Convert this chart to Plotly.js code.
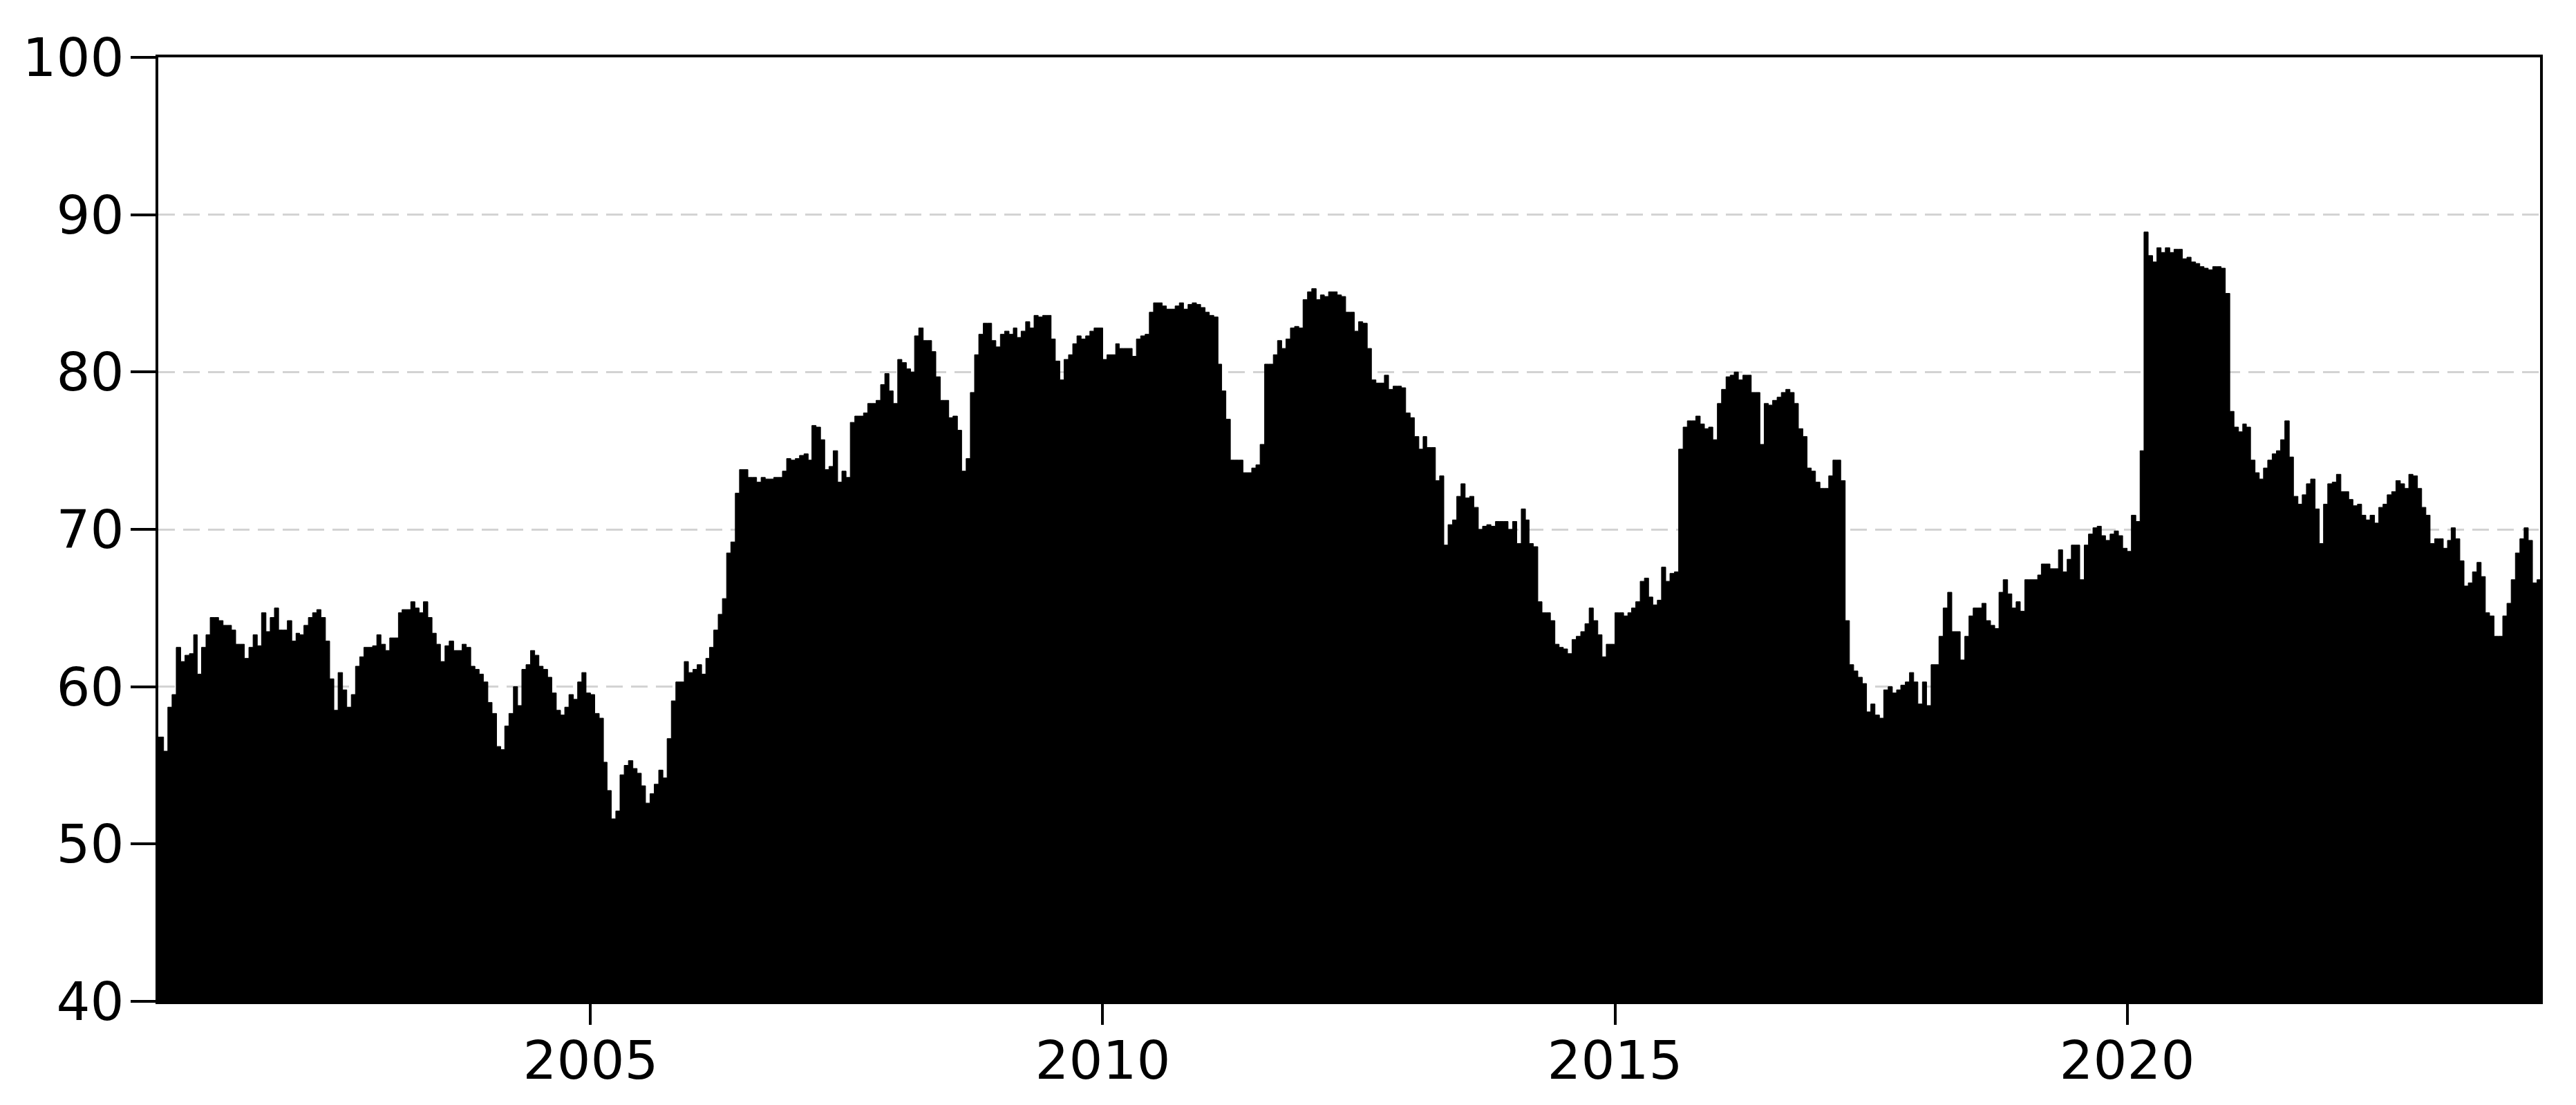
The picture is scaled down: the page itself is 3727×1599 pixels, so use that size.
<!DOCTYPE html>
<html>
<head>
<meta charset="utf-8">
<script src="https://cdn.plot.ly/plotly-3.0.1.min.js"></script>
<style>
    html, body { margin: 0; padding: 0; background: #fff; }
    #grafico { width: 3727px; height: 1599px; }
</style>
</head>
<body>
<div id="grafico"></div>
<script>
// um valor por meio mes (dia 01 e dia 16), 2000 comeca em outubro
var v2000 = [56.8, 56.8, 55.9, 58.7, 59.5, 62.5];
var v2001 = [61.6, 62.0, 62.1, 63.3, 60.8, 62.5, 63.3, 64.4, 64.4, 64.2, 63.9, 63.9, 63.6, 62.7, 62.7, 61.8, 62.5, 63.3, 62.6, 64.7, 63.5, 64.4, 65.0, 63.6];
var v2002 = [63.6, 64.2, 62.9, 63.4, 63.3, 63.9, 64.4, 64.7, 64.9, 64.4, 62.9, 60.5, 58.5, 60.9, 59.8, 58.7, 59.5, 61.3, 61.9, 62.5, 62.5, 62.6, 63.3, 62.7];
var v2003 = [62.3, 63.1, 63.1, 64.7, 64.9, 64.9, 65.4, 65.0, 64.7, 65.4, 64.4, 63.4, 62.7, 61.6, 62.6, 62.9, 62.3, 62.3, 62.7, 62.5, 61.3, 61.1, 60.8, 60.3];
var v2004 = [59.0, 58.3, 56.2, 56.0, 57.5, 58.3, 60.0, 58.8, 61.1, 61.4, 62.3, 62.0, 61.3, 61.1, 60.6, 59.6, 58.5, 58.2, 58.7, 59.5, 59.2, 60.3, 60.9, 59.6];
var v2005 = [59.5, 58.3, 58.0, 55.2, 53.4, 51.6, 52.1, 54.4, 55.0, 55.3, 54.8, 54.5, 53.7, 52.6, 53.2, 53.8, 54.7, 54.2, 56.7, 59.1, 60.3, 60.3, 61.6, 60.9];
var v2006 = [61.1, 61.4, 60.8, 61.8, 62.5, 63.6, 64.6, 65.6, 68.5, 69.2, 72.3, 73.8, 73.8, 73.3, 73.3, 73.0, 73.3, 73.2, 73.2, 73.3, 73.3, 73.7, 74.5, 74.4];
var v2007 = [74.5, 74.7, 74.8, 74.4, 76.6, 76.5, 75.7, 73.8, 74.0, 75.0, 73.0, 73.7, 73.3, 76.8, 77.2, 77.2, 77.4, 78.0, 78.0, 78.2, 79.2, 79.9, 78.8, 78.0];
var v2008 = [80.8, 80.6, 80.2, 80.0, 82.3, 82.8, 82.0, 82.0, 81.3, 79.7, 78.2, 78.2, 77.1, 77.2, 76.3, 73.7, 74.5, 78.7, 81.1, 82.4, 83.1, 83.1, 82.0, 81.6];
var v2009 = [82.4, 82.6, 82.4, 82.8, 82.2, 82.6, 83.2, 82.8, 83.6, 83.5, 83.6, 83.6, 82.1, 80.7, 79.5, 80.8, 81.1, 81.8, 82.3, 82.1, 82.3, 82.6, 82.8, 82.8];
var v2010 = [80.8, 81.1, 81.1, 81.8, 81.5, 81.5, 81.5, 81.0, 82.1, 82.3, 82.4, 83.8, 84.4, 84.4, 84.2, 84.0, 84.0, 84.2, 84.4, 84.0, 84.3, 84.4, 84.3, 84.1];
var v2011 = [83.8, 83.6, 83.5, 80.5, 78.8, 77.0, 74.4, 74.4, 74.4, 73.6, 73.6, 73.9, 74.1, 75.4, 80.5, 80.5, 81.1, 82.0, 81.5, 82.1, 82.8, 82.9, 82.8, 84.6];
var v2012 = [85.1, 85.3, 84.6, 84.9, 84.8, 85.1, 85.1, 84.9, 84.8, 83.8, 83.8, 82.6, 83.2, 83.1, 81.5, 79.5, 79.3, 79.3, 79.8, 78.9, 79.1, 79.1, 79.0, 77.4];
var v2013 = [77.1, 75.9, 75.1, 75.9, 75.2, 75.2, 73.1, 73.4, 69.0, 70.3, 70.6, 72.1, 72.9, 72.0, 72.1, 71.4, 70.0, 70.2, 70.3, 70.2, 70.5, 70.5, 70.5, 70.0];
var v2014 = [70.5, 69.1, 71.3, 70.6, 69.1, 68.9, 65.4, 64.7, 64.7, 64.2, 62.7, 62.5, 62.4, 62.1, 63.0, 63.2, 63.5, 64.0, 65.0, 64.2, 63.3, 61.9, 62.7, 62.7];
var v2015 = [64.7, 64.7, 64.5, 64.7, 65.0, 65.4, 66.7, 66.9, 65.7, 65.2, 65.5, 67.6, 66.7, 67.2, 67.3, 75.1, 76.5, 76.9, 76.9, 77.2, 76.7, 76.4, 76.5, 75.7];
var v2016 = [78.0, 78.9, 79.7, 79.8, 80.0, 79.5, 79.8, 79.8, 78.7, 78.7, 75.4, 78.0, 77.9, 78.2, 78.4, 78.7, 78.9, 78.7, 78.0, 76.4, 75.9, 73.9, 73.7, 73.0];
var v2017 = [72.6, 72.6, 73.4, 74.4, 74.4, 73.1, 64.2, 61.4, 61.0, 60.6, 60.2, 58.4, 58.9, 58.2, 58.0, 59.8, 60.0, 59.6, 59.8, 60.1, 60.3, 60.9, 60.3, 58.9];
var v2018 = [60.3, 58.8, 61.4, 61.4, 63.2, 65.0, 66.0, 63.5, 63.5, 61.7, 63.2, 64.5, 65.0, 65.0, 65.3, 64.2, 63.9, 63.7, 66.0, 66.8, 65.9, 65.0, 65.4, 64.8];
var v2019 = [66.8, 66.8, 66.8, 67.1, 67.8, 67.8, 67.5, 67.5, 68.7, 67.3, 68.1, 69.0, 69.0, 66.8, 69.0, 69.7, 70.1, 70.2, 69.6, 69.3, 69.7, 69.9, 69.6, 68.8];
var v2020 = [68.6, 70.9, 70.5, 75.0, 88.9, 87.4, 87.0, 87.9, 87.6, 87.9, 87.6, 87.8, 87.8, 87.2, 87.3, 87.0, 86.9, 86.7, 86.6, 86.5, 86.7, 86.7, 86.6, 85.0];
var v2021 = [77.5, 76.5, 76.2, 76.7, 76.5, 74.4, 73.6, 73.2, 73.9, 74.4, 74.8, 75.0, 75.7, 76.9, 74.6, 72.1, 71.6, 72.2, 72.9, 73.2, 71.3, 69.1, 71.6, 72.9];
var v2022 = [73.0, 73.5, 72.4, 72.4, 71.9, 71.5, 71.6, 70.9, 70.6, 70.9, 70.4, 71.4, 71.6, 72.2, 72.4, 73.1, 72.9, 72.6, 73.5, 73.4, 72.6, 71.4, 70.9, 69.1];
var v2023 = [69.4, 69.4, 68.8, 69.3, 70.1, 69.4, 68.0, 66.4, 66.6, 67.3, 67.9, 67.0, 64.7, 64.5, 63.2, 63.2, 64.5, 65.3, 66.8, 68.5, 69.4, 70.1, 69.3, 66.6];
var v2024 = [66.8, 66.8, 66.8];

var anos = [2000, 2001, 2002, 2003, 2004, 2005, 2006, 2007, 2008, 2009, 2010, 2011, 2012,
            2013, 2014, 2015, 2016, 2017, 2018, 2019, 2020, 2021, 2022, 2023, 2024];
var series = [v2000, v2001, v2002, v2003, v2004, v2005, v2006, v2007, v2008, v2009, v2010, v2011, v2012,
              v2013, v2014, v2015, v2016, v2017, v2018, v2019, v2020, v2021, v2022, v2023, v2024];

var ticksX = ['2005-01-01', '2010-01-01', '2015-01-01', '2020-01-01'];
var rotulosX = ['2005', '2010', '2015', '2020'];
var ticksY = [40, 50, 60, 70, 80, 90, 100];

var datas = [];
var valores = [];
for (let i = 0; i < anos.length; i++) {
    let mesInicial = (anos[i] === 2000) ? 10 : 1;
    series[i].forEach(function (v, j) {
        let mes = mesInicial + Math.floor(j / 2);
        let dia = (j % 2 === 0) ? '01' : '16';
        datas.push(anos[i] + '-' + String(mes).padStart(2, '0') + '-' + dia);
        valores.push(v);
    });
}

var fonte = {family: 'DejaVu Sans, Liberation Sans, sans-serif', size: 77, color: '#000'};

var dados = [{
    x: datas,
    y: valores,
    type: 'scatter',
    mode: 'lines',
    line: {color: '#000', width: 1, shape: 'hv'},
    fill: 'tozeroy',
    fillcolor: '#000',
    hoverinfo: 'skip'
}];

var layout = {
    width: 3727,
    height: 1599,
    margin: {l: 229, r: 52, t: 83, b: 150},
    paper_bgcolor: '#fff',
    plot_bgcolor: '#fff',
    showlegend: false,
    font: fonte,
    xaxis: {
        type: 'date',
        range: ['2000-10-13', '2024-01-12'],
        tickmode: 'array',
        tickvals: ticksX,
        ticktext: rotulosX,
        ticks: 'outside',
        ticklen: 30,
        tickwidth: 4,
        tickcolor: '#000',
        ticklabelstandoff: -14,
        showgrid: false,
        zeroline: false,
        showline: true,
        mirror: true,
        linecolor: '#000',
        linewidth: 4,
        tickfont: fonte
    },
    yaxis: {
        range: [40, 100],
        tickmode: 'array',
        tickvals: ticksY,
        ticks: 'outside',
        ticklen: 36,
        tickwidth: 4,
        tickcolor: '#000',
        ticklabelstandoff: -6,
        showgrid: true,
        gridcolor: '#d3d3d3',
        gridwidth: 3,
        griddash: '24px,12px',
        zeroline: false,
        showline: true,
        mirror: true,
        linecolor: '#000',
        linewidth: 4,
        tickfont: fonte
    }
};

Plotly.newPlot('grafico', dados, layout, {staticPlot: true, displayModeBar: false});
</script>
</body>
</html>
